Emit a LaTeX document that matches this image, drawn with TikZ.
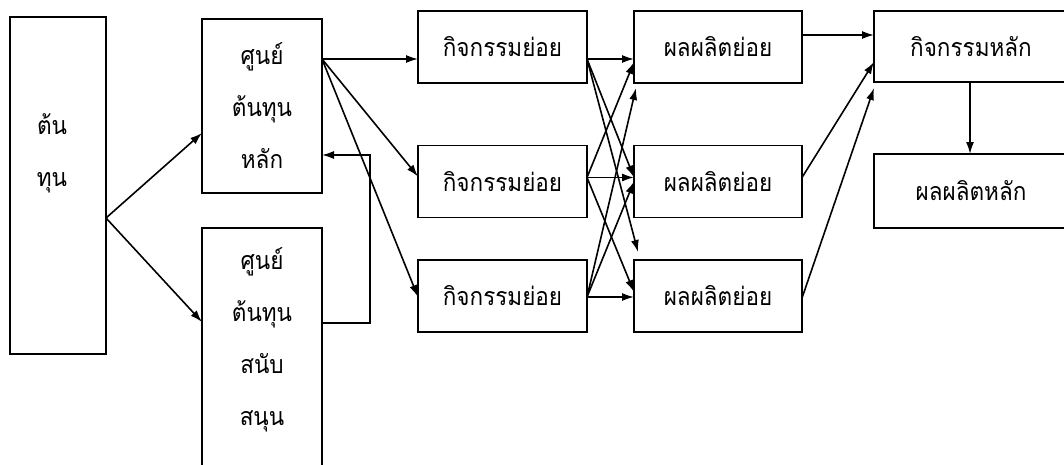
\documentclass[tikz,border=0pt]{standalone}
\usepackage{fontspec}
\newfontfamily\thaifont[Script=Thai,FakeStretch=0.9]{Loma}
\usetikzlibrary{arrows.meta,calc}
\begin{document}
\begin{tikzpicture}[x=1pt,y=-1pt,
  box/.style={draw,line width=1.6pt,inner sep=0pt,outer sep=0pt,align=center,
    font=\thaifont\fontsize{25}{52}\selectfont},
  txt/.style={inner sep=0pt,align=center,font=\thaifont\fontsize{25}{52}\selectfont},
  arr/.style={line width=1.6pt,-{Latex[length=12pt,width=8pt]}}]
\fill[white] (0,0) rectangle (1064,464);
\clip (0,0) rectangle (1064,464);
% boxes
\node[box,minimum width=96pt,minimum height=337pt] (cost) at (58,185.5) {};
\node[txt] (costt) at (52,153.5) {ต้น\\ทุน};
\node[box,minimum width=120pt,minimum height=174pt] (cmain) at (262,106) {ศูนย์\\ต้นทุน\\หลัก};
\node[box,minimum width=120pt,minimum height=300pt] (csup) at (262,378) {};
\node[txt] (csupt) at (262,340) {ศูนย์\\ต้นทุน\\สนับ\\สนุน};
\node[box,minimum width=169pt,minimum height=72pt] (act1) at (502.5,47) {กิจกรรมย่อย};
\node[box,minimum width=169pt,minimum height=72pt] (act2) at (502.5,181.5) {กิจกรรมย่อย};
\node[box,minimum width=169pt,minimum height=72pt] (act3) at (502.5,296) {กิจกรรมย่อย};
\node[box,minimum width=168pt,minimum height=72pt] (prod1) at (718,47) {ผลผลิตย่อย};
\node[box,minimum width=168pt,minimum height=72pt] (prod2) at (718,181.5) {ผลผลิตย่อย};
\node[box,minimum width=168pt,minimum height=72pt] (prod3) at (718,296) {ผลผลิตย่อย};
\node[box,minimum width=194pt,minimum height=71pt] (mact) at (971,46.5) {กิจกรรมหลัก};
\node[box,minimum width=194pt,minimum height=74pt] (mprod) at (971,191) {ผลผลิตหลัก};
% cost -> centers
\coordinate (s0) at ($(cost.north east)+(0,201)$);
\draw[arr] (s0) -- ($(cmain.north west)+(0,114)$);
\draw[arr] (s0) -- ($(csup.north west)+(0,94)$);
% support -> main (feedback)
\coordinate (fb1) at ($(csup.north east)+(48,95)$);
\coordinate (fb2) at ($(cmain.north east)+(48,136)$);
\draw[arr] ($(csup.north east)+(0,95)$) -- (fb1) -- (fb2) -- ($(cmain.north east)+(0,136)$);
% main center -> activities
\coordinate (s1) at ($(cmain.north east)+(0,40)$);
\draw[arr] (s1) -- ($(act1.north west)+(0,48)$);
\draw[arr] (s1) -- ($(act2.north west)+(0,31)$);
\draw[arr] (s1) -- ($(act3.north west)+(0,37)$);
% activities -> products
\coordinate (a1) at ($(act1.north east)+(0,48)$);
\coordinate (a2) at ($(act2.north east)+(0,32)$);
\coordinate (a3) at ($(act3.north east)+(0,37)$);
\draw[arr] (a1) -- ($(prod1.north west)+(0,48)$);
\draw[arr] (a1) -- ($(prod2.north west)+(0,32)$);
\draw[arr] (a1) -- ($(prod3.north west)+(4,-8)$);
\draw[arr] (a2) -- ($(prod1.north west)+(0,51)$);
\draw[arr] (a2) -- ($(prod2.north west)+(0,32)$);
\draw[arr] (a2) -- ($(prod3.north west)+(0,32)$);
\draw[arr] (a3) -- ($(prod1.south west)+(2,5)$);
\draw[arr] (a3) -- ($(prod2.north west)+(0,36)$);
\draw[arr] (a3) -- ($(prod3.north west)+(0,37)$);
% products -> main activity
\draw[arr] ($(prod1.north east)+(0,24)$) -- ($(mact.north west)+(0,24)$);
\draw[arr] ($(prod2.north east)+(0,32)$) -- ($(mact.north west)+(0,51)$);
\draw[arr] ($(prod3.north east)+(0,38)$) -- ($(mact.south west)+(0,6)$);
% main activity -> main product
\draw[arr] ($(mact.south)+(-1,0)$) -- ($(mprod.north)+(-1,0)$);
\end{tikzpicture}
\end{document}
